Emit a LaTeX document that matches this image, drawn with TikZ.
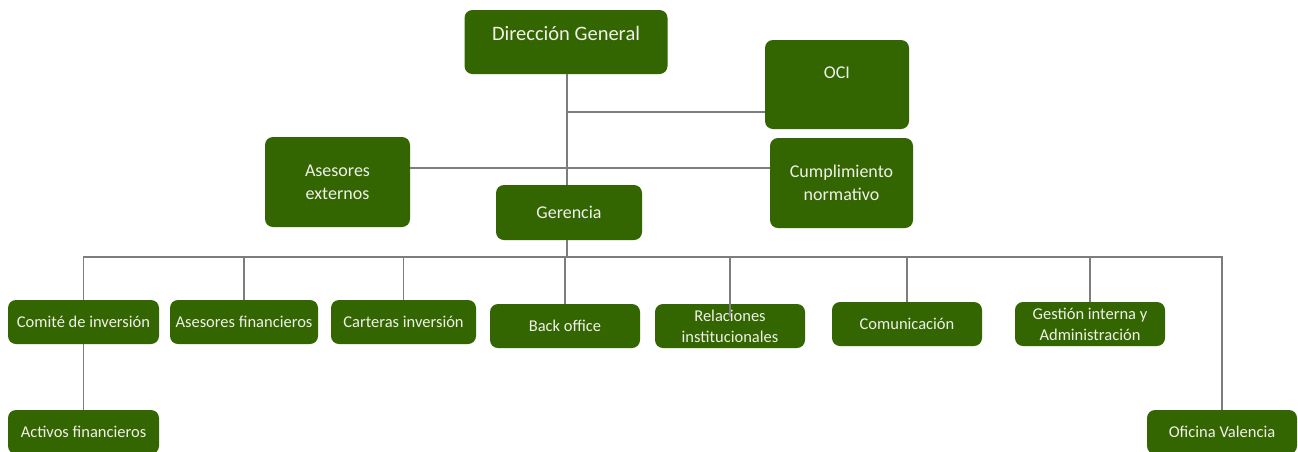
\documentclass[tikz,border=0pt]{standalone}
\usepackage{fontspec}
\setmainfont{Carlito}
\usepackage{tikz}
\usepackage{xcolor}
\definecolor{orggreen}{RGB}{51,102,0}
\definecolor{orgline}{RGB}{125,125,125}
\definecolor{orgtext}{RGB}{240,240,235}

\begin{document}
\begin{tikzpicture}[x=1pt,y=-1pt]
	\tikzstyle{box} = [fill=orggreen, rounded corners=8pt, text=orgtext, align=center, inner sep=0pt, minimum width=150pt, minimum height=44pt, font=\fontsize{16.5}{21}\selectfont]
	\tikzstyle{bigbox} = [box, minimum width=144pt, minimum height=90pt, font=\fontsize{18}{23}\selectfont]
	\tikzstyle{edge} = [draw=orgline, line width=1.2pt]
	\useasboundingbox (0,0) rectangle (1298,451);
		\node[box, minimum width=203pt, minimum height=0pt, text height=30pt, text depth=34pt, font=\fontsize{20.5}{24}\selectfont] (dg) at (566,42) {Dirección General};
		\node[bigbox, minimum height=0pt, text height=38pt, text depth=51pt] (oci) at (837,84.5) {OCI};
		\node[bigbox, minimum width=145pt] (asx) at (337.5,182) {Asesores\\externos};
		\node[bigbox, minimum width=143pt] (cum) at (841.5,183) {Cumplimiento\\normativo};
		\node[bigbox, minimum width=146pt, minimum height=55pt] (ger) at (569,212.5) {Gerencia};
		\node[box, minimum width=151pt] (com) at (83.5,322) {Comité de inversión};
		\node[box, minimum width=148pt] (asf) at (244,322) {Asesores financieros};
		\node[box, minimum width=145pt] (car) at (403.5,322) {Carteras inversión};
		\node[box] (bof) at (565,326) {Back office};
		\node[box] (rel) at (730,326) {Relaciones\\institucionales};
		\node[box] (cmu) at (907,324) {Comunicación};
		\node[box] (gin) at (1090,324) {Gestión interna y\\Administración};
		\node[box, minimum width=151pt] (act) at (83.5,432) {Activos financieros};
		\node[box] (ofv) at (1222,432) {Oficina Valencia};
	\coordinate (oj) at (567,112);
	\coordinate (aj) at (567,168);
	\coordinate (bus) at (567,257);
	\draw[edge] (ger.north -| oj) -- (dg.south -| oj);
	\draw[edge] (oj) -- (oj -| oci.west);
	\draw[edge] (aj -| asx.east) -- (aj -| cum.west);
	\foreach \n in {com,asf,car,bof,rel,cmu,gin,ofv}
		\draw[edge] (ger.south -| oj) |- (bus -| \n.north) -- (\n.north);
	\draw[edge] (com) -- (act);
	\draw[edge] (rel.north) -- ++(0,13);
\end{tikzpicture}
\end{document}
